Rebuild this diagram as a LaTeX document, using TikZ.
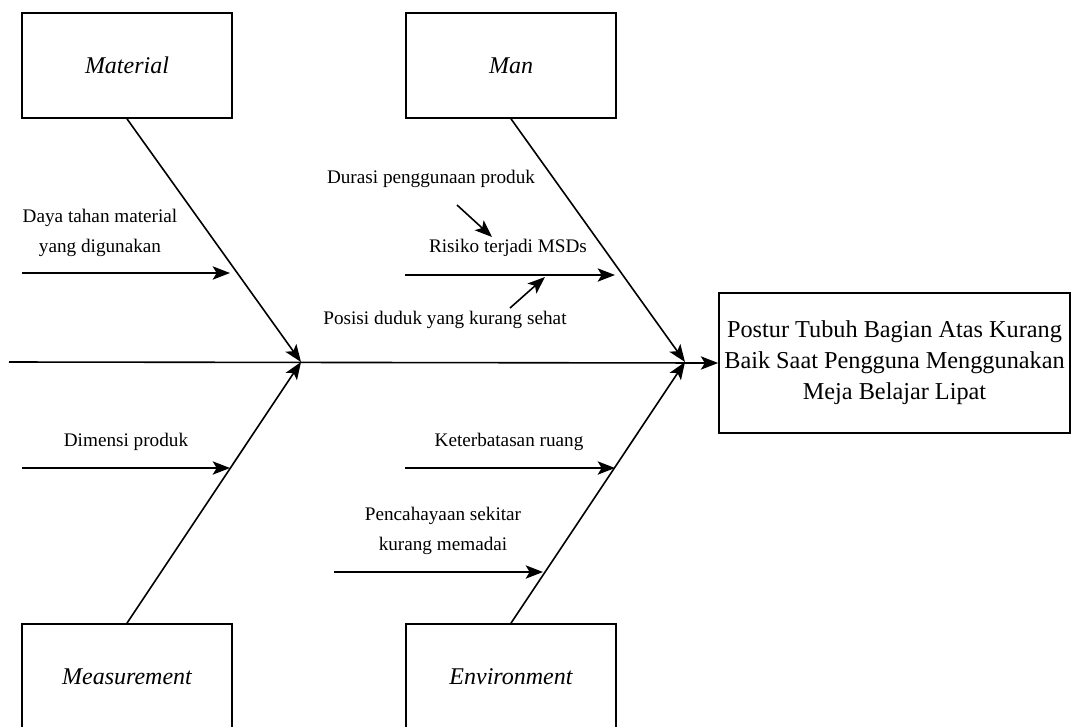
\documentclass[tikz,border=0pt]{standalone}
\usepackage{fontspec}
\setmainfont{Liberation Serif}
\usetikzlibrary{arrows.meta}

\tikzstyle{every node}=[inner sep=0pt, font=\fontsize{14.4}{22.5}\selectfont]
\tikzstyle{bone}=[line width=1.2pt, -{Stealth[length=13pt, width=10pt, inset=3pt]}]
\tikzstyle{category}=[draw=black, line width=1.3pt, minimum width=157.5pt, minimum height=78.75pt, font=\fontsize{18}{20}\selectfont\itshape]
\tikzstyle{effect}=[draw=black, line width=1.3pt, minimum width=263.25pt, minimum height=105pt, align=center, font=\fontsize{18.2}{23.25}\selectfont]
\tikzstyle{cause}=[align=center]

\begin{document}
\begin{tikzpicture}[x=0.75pt, y=-0.75pt]
    \useasboundingbox (0,0) rectangle (1071,726);

    % categories and effect
    \node [category] (material) at (127,65.5) {Material};
    \node [category] (man) at (511,65.5) {Man};
    \node [category] (measurement) at (127,676.5) {Measurement};
    \node [category] (environment) at (511,676.5) {Environment};
    \node [effect] (result) at (894.5,363) {Postur Tubuh Bagian Atas Kurang\\Baik Saat Pengguna Menggunakan\\Meja Belajar Lipat};

    % spine
    \coordinate (tail) at (9,362);
    \coordinate (joinA) at (301,362);
    \coordinate (joinB) at (685,362);
    \draw [bone] (tail) -- (result.west);
    \draw [bone] (material.south) -- (joinA);
    \draw [bone] (measurement.north) -- (joinA);
    \draw [bone] (man.south) -- (joinB);
    \draw [bone] (environment.north) -- (joinB);

    % material
    \node [cause] (daya) at (100,233) {Daya tahan material\\yang digunakan};
    \coordinate (dayaS) at (22,273);
    \coordinate (dayaE) at (230,273);
    \draw [bone] (dayaS) -- (dayaE);

    % measurement
    \node [cause] (dimensi) at (126,442) {Dimensi produk};
    \coordinate (dimensiS) at (22,468);
    \coordinate (dimensiE) at (230,468);
    \draw [bone] (dimensiS) -- (dimensiE);

    % man
    \node [cause] (durasi) at (431,179) {Durasi penggunaan produk};
    \node [cause] (risiko) at (508,248) {Risiko terjadi MSDs};
    \node [cause] (posisi) at (445,320) {Posisi duduk yang kurang sehat};
    \coordinate (risikoS) at (405,275);
    \coordinate (risikoE) at (615,275);
    \coordinate (durasiS) at (457,205);
    \coordinate (durasiE) at (492,237);
    \coordinate (posisiS) at (510,308);
    \coordinate (posisiE) at (545,277);
    \draw [bone] (risikoS) -- (risikoE);
    \draw [bone] (durasiS) -- (durasiE);
    \draw [bone] (posisiS) -- (posisiE);

    % environment
    \node [cause] (ruang) at (509,442) {Keterbatasan ruang};
    \node [cause] (cahaya) at (443,531) {Pencahayaan sekitar\\kurang memadai};
    \coordinate (ruangS) at (405,468);
    \coordinate (ruangE) at (615,468);
    \coordinate (cahayaS) at (334,572);
    \coordinate (cahayaE) at (543,572);
    \draw [bone] (ruangS) -- (ruangE);
    \draw [bone] (cahayaS) -- (cahayaE);
\end{tikzpicture}
\end{document}
